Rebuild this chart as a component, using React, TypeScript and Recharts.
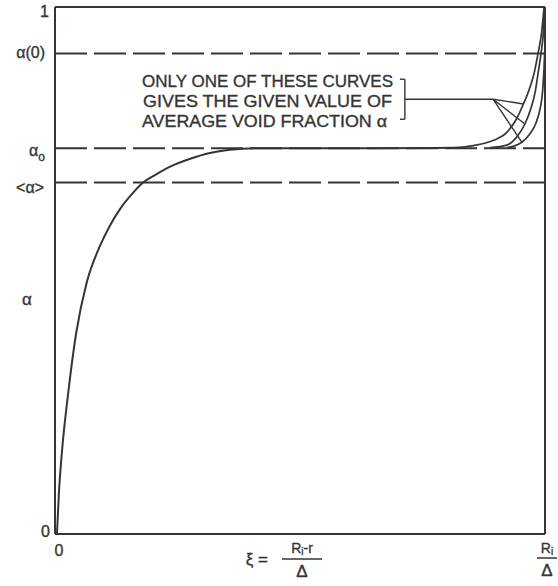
import React from "react";
import { LineChart, Line, XAxis, YAxis, ReferenceLine } from "recharts";

// Characteristic void-fraction levels (fraction of full scale)
const ALPHA_WALL = 0.912; // α(0)
const ALPHA_CORE = 0.732; // α₀
const ALPHA_MEAN = 0.667; // <α>

const yTicks = [0, ALPHA_MEAN, ALPHA_CORE, ALPHA_WALL, 1];
const xTicks = [0, 1];

// Rising branch from the wall at ξ = 0 up to the flat core value
const riseXi = [0.004, 0.008, 0.014, 0.027, 0.043, 0.065, 0.092, 0.112, 0.133, 0.155, 0.18, 0.204, 0.235, 0.276, 0.316, 0.357, 0.418, 0.49, 0.65, 0.813];
const riseAlpha = [0, 0.078, 0.154, 0.268, 0.38, 0.478, 0.547, 0.585, 0.617, 0.643, 0.667, 0.681, 0.697, 0.712, 0.723, 0.729, 0.732, 0.732, 0.732, 0.733];

// Three candidate branches near ξ = Ri/Δ
const branchAXi = [0.813, 0.854, 0.895, 0.922, 0.942, 0.956, 0.968, 0.978, 0.986, 0.993, 0.998];
const branchAAlpha = [0.733, 0.737, 0.747, 0.762, 0.788, 0.816, 0.844, 0.875, 0.913, 0.951, 0.998];

const branchBXi = [0.888, 0.922, 0.942, 0.959, 0.971, 0.98, 0.986, 0.992, 0.997, 0.999];
const branchBAlpha = [0.733, 0.738, 0.753, 0.778, 0.807, 0.839, 0.875, 0.913, 0.957, 0.998];

const branchCXi = [0.922, 0.952, 0.969, 0.982, 0.99, 0.995, 0.998, 1.0];
const branchCAlpha = [0.733, 0.743, 0.759, 0.781, 0.807, 0.839, 0.883, 0.93];

const note = [
  "ONLY ONE OF THESE CURVES",
  "GIVES THE GIVEN VALUE OF",
  "AVERAGE VOID FRACTION α",
];

const zip = (xs: number[], ys: number[]) => xs.map((xi, i) => ({ xi, alpha: ys[i] }));
const rise = zip(riseXi, riseAlpha);
const branchA = zip(branchAXi, branchAAlpha);
const branchB = zip(branchBXi, branchBAlpha);
const branchC = zip(branchCXi, branchCAlpha);

const INK = "#353535";
const FONT = "'Liberation Sans', Arial, sans-serif";
const TEXT_STROKE = { stroke: INK, strokeWidth: 0.35 };

const YTick = (props: any) => {
  const { x, y, payload } = props;
  const v = payload.value;
  const base = { fill: INK, fontFamily: FONT, fontSize: 16, textAnchor: "end" as const, ...TEXT_STROKE };
  if (v === 0) return <text x={x + 5} y={y + 3} {...base}>0</text>;
  if (v === 1) return <text x={x + 4} y={y + 10} {...base}>1</text>;
  if (v === ALPHA_WALL) return <text x={x} y={y + 5} {...base}>α(0)</text>;
  if (v === ALPHA_CORE)
    return (
      <text x={x} y={y + 8} {...base}>
        α<tspan fontSize={12} dy={5}>o</tspan>
      </text>
    );
  return <text x={x - 1} y={y + 10.5} {...base}>{"<α>"}</text>;
};

const XTick = (props: any) => {
  const { x, y, payload } = props;
  if (payload.value === 0)
    return (
      <text x={x + 4} y={y + 22} fill={INK} fontFamily={FONT} fontSize={16} textAnchor="middle" {...TEXT_STROKE}>0</text>
    );
  const cx = x + 2;
  return (
    <g fill={INK} fontFamily={FONT} textAnchor="middle">
      <text x={cx} y={y + 19} fontSize={14} {...TEXT_STROKE}>
        R<tspan fontSize={10} dy={2}>i</tspan>
      </text>
      <line x1={cx - 10} x2={cx + 10} y1={y + 24} y2={y + 24} stroke={INK} strokeWidth={1.5} />
      <text x={cx} y={y + 42} fontSize={17} {...TEXT_STROKE}>Δ</text>
    </g>
  );
};

export default function App() {
  const dash = { stroke: INK, strokeWidth: 2, strokeDasharray: "32 7" };
  const thin = { stroke: INK, strokeWidth: 1.4 };
  return (
    <div style={{ position: "absolute", left: 0, top: 0, width: 558, height: 586, background: "#fff" }}>
      <LineChart width={558} height={586} margin={{ top: 7, right: 13, bottom: 0, left: 0 }}>
        <XAxis
          type="number"
          dataKey="xi"
          domain={[0, 1]}
          ticks={xTicks}
          interval={0}
          tick={<XTick />}
          tickLine={false}
          tickSize={0}
          tickMargin={0}
          axisLine={{ stroke: INK, strokeWidth: 2 }}
          height={52}
        />
        <YAxis
          type="number"
          domain={[0, 1]}
          ticks={yTicks}
          interval={0}
          tick={<YTick />}
          tickLine={false}
          tickSize={0}
          tickMargin={10}
          axisLine={{ stroke: INK, strokeWidth: 2 }}
          width={55}
        />
        <ReferenceLine y={1} stroke={INK} strokeWidth={2} />
        <ReferenceLine x={1} stroke={INK} strokeWidth={2} />
        <ReferenceLine y={ALPHA_WALL} {...dash} />
        <ReferenceLine y={ALPHA_CORE} {...dash} />
        <ReferenceLine y={ALPHA_MEAN} {...dash} />

        {/* bracket and leader lines of the note */}
        <ReferenceLine segment={[{ x: 0.704, y: 0.863 }, { x: 0.714, y: 0.863 }]} {...thin} />
        <ReferenceLine segment={[{ x: 0.714, y: 0.863 }, { x: 0.714, y: 0.787 }]} {...thin} />
        <ReferenceLine segment={[{ x: 0.704, y: 0.787 }, { x: 0.714, y: 0.787 }]} {...thin} />
        <ReferenceLine segment={[{ x: 0.714, y: 0.825 }, { x: 0.894, y: 0.825 }]} {...thin} />
        <ReferenceLine segment={[{ x: 0.894, y: 0.825 }, { x: branchAXi[5], y: branchAAlpha[5] }]} {...thin} />
        <ReferenceLine segment={[{ x: 0.894, y: 0.825 }, { x: branchBXi[3], y: branchBAlpha[3] }]} {...thin} />
        <ReferenceLine segment={[{ x: 0.894, y: 0.825 }, { x: branchCXi[1] + 0.001, y: branchCAlpha[1] }]} {...thin} />

        <Line data={rise} dataKey="alpha" type="monotone" stroke={INK} strokeWidth={2} dot={false} isAnimationActive={false} />
        <Line data={branchA} dataKey="alpha" type="monotone" stroke={INK} strokeWidth={1.7} dot={false} isAnimationActive={false} />
        <Line data={branchB} dataKey="alpha" type="monotone" stroke={INK} strokeWidth={1.7} dot={false} isAnimationActive={false} />
        <Line data={branchC} dataKey="alpha" type="monotone" stroke={INK} strokeWidth={1.7} dot={false} isAnimationActive={false} />

        <g fill={INK} fontFamily={FONT} fontSize={16.5} {...TEXT_STROKE}>
          <text x={142} y={87} textLength={251} lengthAdjust="spacingAndGlyphs">{note[0]}</text>
          <text x={143} y={107} textLength={249} lengthAdjust="spacingAndGlyphs">{note[1]}</text>
          <text x={142} y={127} textLength={245} lengthAdjust="spacingAndGlyphs">{note[2]}</text>
        </g>

        {/* axis titles */}
        <text x={27} y={305} fill={INK} fontFamily={FONT} fontSize={17} textAnchor="middle" {...TEXT_STROKE}>α</text>
        <g fill={INK} fontFamily={FONT} {...TEXT_STROKE}>
          <text x={268} y={565} fontSize={17} textAnchor="end">ξ =</text>
          <text x={302} y={553} fontSize={14} textAnchor="middle">
            R<tspan fontSize={10} dy={2}>i</tspan><tspan dy={-2}>-r</tspan>
          </text>
          <line x1={282} x2={322} y1={559} y2={559} stroke={INK} strokeWidth={1.5} />
          <text x={302} y={577} fontSize={17} textAnchor="middle">Δ</text>
        </g>
      </LineChart>
    </div>
  );
}
